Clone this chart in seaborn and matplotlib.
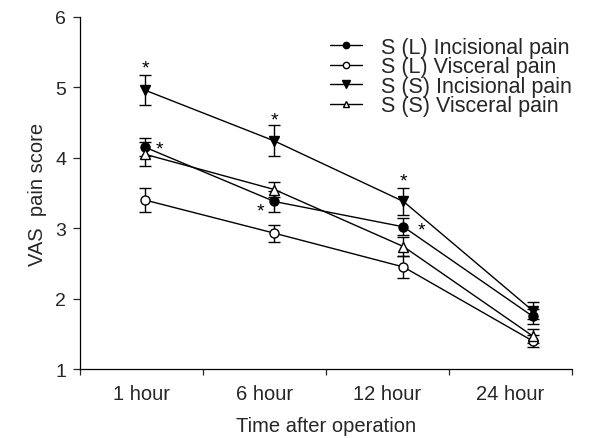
import numpy as np
import pandas as pd
import seaborn as sns
import matplotlib
matplotlib.use("Agg")
import matplotlib.pyplot as plt

# Time points and mean VAS scores with error bars
times = ["1 hour", "6 hour", "12 hour", "24 hour"]
series_names = ["S (L) Incisional pain", "S (L) Visceral pain",
                "S (S) Incisional pain", "S (S) Visceral pain"]
sl_incisional = [4.15, 3.38, 3.02, 1.75]
sl_incisional_err = [0.13, 0.15, 0.12, 0.11]
sl_visceral = [3.40, 2.93, 2.45, 1.40]
sl_visceral_err = [0.17, 0.12, 0.15, 0.09]
ss_incisional = [4.96, 4.24, 3.38, 1.83]
ss_incisional_err = [0.21, 0.22, 0.19, 0.12]
ss_visceral = [4.05, 3.55, 2.74, 1.47]
ss_visceral_err = [0.17, 0.11, 0.14, 0.10]

sns.set_theme(style="ticks")
plt.rcParams["font.family"] = ["Liberation Sans", "DejaVu Sans"]

fig = plt.figure(figsize=(6.07, 4.39), dpi=100)
ax = fig.add_axes([0.1318, 0.157, 0.8105, 0.802])

# points sit slightly right of each category centre
xpos = np.arange(len(times)) * 1.05 + 0.53

values = [sl_incisional, sl_visceral, ss_incisional, ss_visceral]
errors = [sl_incisional_err, sl_visceral_err, ss_incisional_err, ss_visceral_err]
markers = ["o", "o", "v", "^"]
faces = ["black", "white", "black", "white"]
sizes = [6.5, 6.5, 7.5, 7]

for name, vals, errs, mk, fc, ms in zip(series_names, values, errors, markers, faces, sizes):
    df = pd.DataFrame({"x": xpos, "y": vals})
    ax.errorbar(xpos, vals, yerr=errs, fmt="none", ecolor="black",
                elinewidth=1.0, capsize=4.2, capthick=1.0, zorder=2)
    sns.lineplot(data=df, x="x", y="y", ax=ax, color="black", linewidth=1.0,
                 marker=mk, markersize=ms, markerfacecolor=fc,
                 markeredgecolor="black", markeredgewidth=1.0,
                 label=name, zorder=3)

# significance markers
star_kw = dict(ha="center", va="center", fontsize=14, color="black")
ax.text(xpos[0], ss_incisional[0] + 0.31, "*", **star_kw)
ax.text(xpos[0] + 0.12, sl_incisional[0] - 0.02, "*", **star_kw)
ax.text(xpos[1], ss_incisional[1] + 0.30, "*", **star_kw)
ax.text(xpos[1] - 0.11, sl_incisional[1] - 0.14, "*", **star_kw)
ax.text(xpos[2], ss_incisional[2] + 0.29, "*", **star_kw)
ax.text(xpos[2] + 0.15, sl_incisional[2] - 0.04, "*", **star_kw)

ax.set_xlim(0, 4)
ax.set_ylim(1, 6)
ax.set_yticks([1, 2, 3, 4, 5, 6])
ax.set_xticks([0, 1, 2, 3, 4])
ax.set_xticklabels([])
ax.set_xticks(np.arange(len(times)) + 0.5, minor=True)
ax.set_xticklabels(times, minor=True)
ax.tick_params(axis="x", which="minor", length=0, pad=11, labelsize=14.5)
ax.tick_params(axis="x", which="major", length=4, width=0.9, direction="out")
ax.tick_params(axis="y", length=5, width=0.9, labelsize=14, pad=5)

ax.set_xlabel("Time after operation", fontsize=14.5, labelpad=9)
ax.set_ylabel("VAS  pain score", fontsize=14.5, labelpad=6)

for s in ["top", "right"]:
    ax.spines[s].set_visible(False)
for s in ["left", "bottom"]:
    ax.spines[s].set_linewidth(0.9)
    ax.spines[s].set_color("black")

leg = ax.legend(loc="upper left", bbox_to_anchor=(330 / 607, 1 - 38 / 439),
                bbox_transform=fig.transFigure, frameon=False,
                fontsize=15.5, handlelength=1.5, handletextpad=0.85,
                labelspacing=-0.07, markerscale=0.7, borderaxespad=0.0,
                borderpad=0.0)

fig.savefig("out.png", dpi=100)
